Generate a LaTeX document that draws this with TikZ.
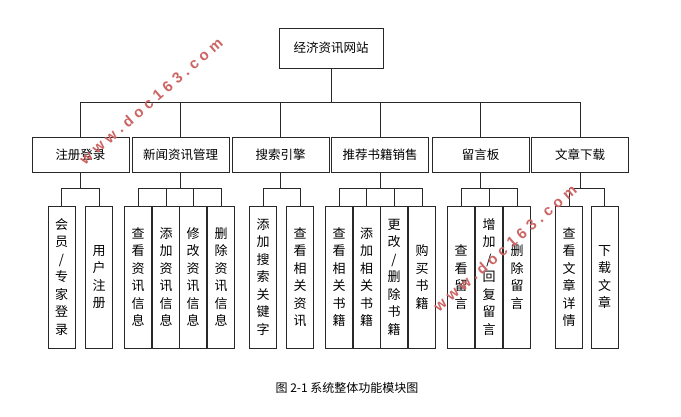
\documentclass[tikz,border=0pt]{standalone}
\usepackage{fontspec}
\newfontfamily\cjk{Noto Sans CJK SC}
\newfontfamily\wmfont[LetterSpace=30]{Liberation Sans}
\definecolor{wmred}{RGB}{205,100,100}
\definecolor{ln}{RGB}{40,40,40}
\tikzset{
  topbox/.style={draw=ln, line width=0.8pt, minimum width=104pt, minimum height=40pt, inner sep=0pt, font=\cjk\fontsize{12.5}{14}\selectfont},
  midbox/.style={draw=ln, line width=0.8pt, minimum width=97pt, minimum height=35pt, inner sep=0pt, font=\cjk\fontsize{12.5}{14}\selectfont},
  leaf/.style={draw=ln, line width=0.8pt, minimum width=27pt, minimum height=142pt, inner sep=0pt, align=center, font=\cjk\fontsize{13}{17.5}\selectfont},
  conn/.style={draw=ln, line width=0.8pt},
  wm/.style={text=wmred, rotate=41, font=\wmfont\bfseries\fontsize{15}{17}\selectfont, inner sep=0pt},
  captext/.style={font=\cjk\fontsize{12}{14}\selectfont, inner sep=0pt}
}
\begin{document}
\begin{tikzpicture}[x=1pt,y=-1pt]
\useasboundingbox (0,0) rectangle (681,417);
\node[topbox] (top) at (331,48) {经济资讯网站};
\node[midbox] (s1) at (80.5,154.5) {注册登录};
\node[midbox] (s2) at (180.5,154.5) {新闻资讯管理};
\node[midbox] (s3) at (280.5,154.5) {搜索引擎};
\node[midbox] (s4) at (380,154.5) {推荐书籍销售};
\node[midbox] (s5) at (480.5,154.5) {留言板};
\node[midbox] (s6) at (580,154.5) {文章下载};
\foreach \s in {s1,s2,s3,s4,s5,s6}
  \draw[conn] (top.south) -- ++(0,34) -| (\s.north);
% leaves
\node[leaf] (l11) at (61.5,277) {会\\员\\/\\专\\家\\登\\录};
\node[leaf] (l12) at (99,277) {用\\户\\注\\册};
\node[leaf] (l21) at (138,277) {查\\看\\资\\讯\\信\\息};
\node[leaf] (l22) at (166,277) {添\\加\\资\\讯\\信\\息};
\node[leaf] (l23) at (193,277) {修\\改\\资\\讯\\信\\息};
\node[leaf] (l24) at (221,277) {删\\除\\资\\讯\\信\\息};
\node[leaf] (l31) at (263,277) {添\\加\\搜\\索\\关\\键\\字};
\node[leaf] (l32) at (300,277) {查\\看\\相\\关\\资\\讯};
\node[leaf] (l41) at (339,277) {查\\看\\相\\关\\书\\籍};
\node[leaf] (l42) at (366.5,277) {添\\加\\相\\关\\书\\籍};
\node[leaf] (l43) at (394,277) {更\\改\\/\\删\\除\\书\\籍};
\node[leaf] (l44) at (422,277) {购\\买\\书\\籍};
\node[leaf] (l51) at (461,277) {查\\看\\留\\言};
\node[leaf] (l52) at (489,277) {增\\加\\/\\回\\复\\留\\言};
\node[leaf] (l53) at (517,277) {删\\除\\留\\言};
\node[leaf] (l61) at (569,277) {查\\看\\文\\章\\详\\情};
\node[leaf] (l62) at (604.5,277) {下\\载\\文\\章};
\foreach \l in {l11,l12} \draw[conn] (s1.south) -- ++(0,16) -| (\l.north);
\foreach \l in {l21,l22,l23,l24} \draw[conn] (s2.south) -- ++(0,16) -| (\l.north);
\foreach \l in {l31,l32} \draw[conn] (s3.south) -- ++(0,16) -| (\l.north);
\foreach \l in {l41,l42,l43,l44} \draw[conn] (s4.south) -- ++(0,16) -| (\l.north);
\foreach \l in {l51,l52,l53} \draw[conn] (s5.south) -- ++(0,16) -| (\l.north);
\foreach \l in {l61,l62} \draw[conn] (s6.south) -- ++(0,16) -| (\l.north);
% caption
\node[captext] (caption) at (347,388) {图 2-1 系统整体功能模块图};
% watermarks
\node[wm] (wm1) at (151,101) {www.doc163.com};
\node[wm] (wm2) at (505,248) {www.doc163.com};
\end{tikzpicture}
\end{document}
